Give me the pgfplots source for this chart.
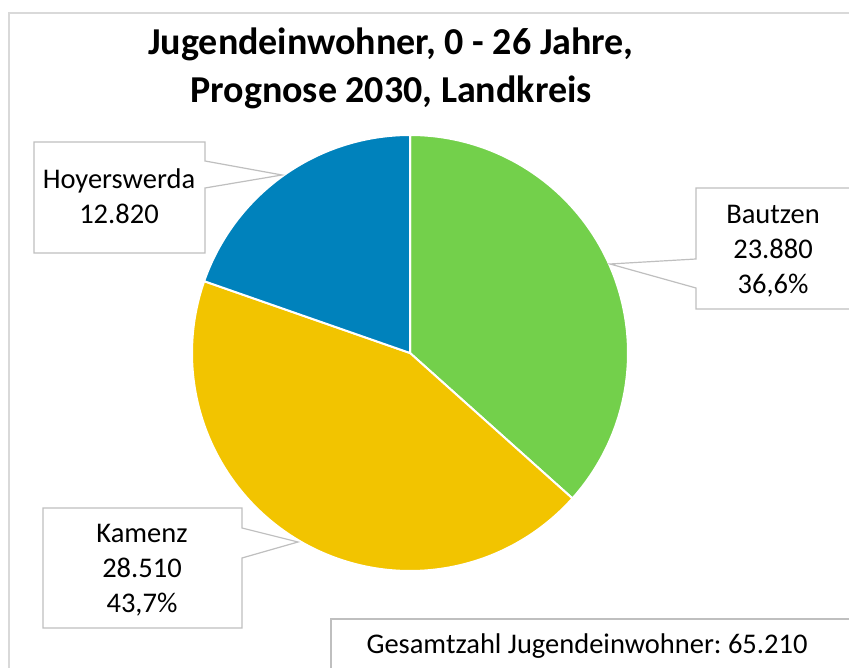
\documentclass[border=0pt]{standalone}
\usepackage{pgfplots}
\pgfplotsset{compat=1.18}
\usepackage{fontspec}
\setmainfont{Carlito}
\definecolor{cgreen}{RGB}{115,208,75}
\definecolor{cyellow}{RGB}{242,196,0}
\definecolor{cblue}{RGB}{0,130,188}
\definecolor{cframe}{RGB}{217,217,217}
\definecolor{ccall}{RGB}{191,191,191}
% data
\def\vBautzen{23880}
\def\vKamenz{28510}
\def\vHoy{12820}
\pgfkeys{/pgf/fpu=true,/pgf/fpu/output format=fixed}
\pgfmathsetmacro\tot{\vBautzen+\vKamenz+\vHoy}
\pgfmathsetmacro\aB{90-360*\vBautzen/\tot}
\pgfmathsetmacro\aK{\aB-360*\vKamenz/\tot}
\pgfmathsetmacro\aH{\aK-360*\vHoy/\tot}
\pgfkeys{/pgf/fpu=false}
\begin{document}
\begin{tikzpicture}
\begin{axis}[
  width=849bp, height=668bp, scale only axis,
  xmin=0, xmax=849, ymin=0, ymax=668,
  hide axis, clip=false]
% frame
\draw[cframe, line width=1.2bp] (9,-20) -- (9,655) -- (880,655);
% pie
\addplot[fill=cgreen, draw=white, line width=2bp, domain=\aB:90, samples=150] ({410+218*cos(x)}, {315+218*sin(x)}) -- (410,315) -- cycle;
\addplot[fill=cyellow, draw=white, line width=2bp, domain=\aK:\aB, samples=150] ({410+218*cos(x)}, {315+218*sin(x)}) -- (410,315) -- cycle;
\addplot[fill=cblue, draw=white, line width=2bp, domain=\aH:\aK, samples=150] ({410+218*cos(x)}, {315+218*sin(x)}) -- (410,315) -- cycle;
% callouts
\draw[ccall, line width=1.2bp, fill=white] (34,526) -- (205,526) -- (205,507) -- (282,493) -- (205,480) -- (205,415) -- (34,415) -- cycle;
\draw[ccall, line width=1.2bp, fill=white] (880,480) -- (696,480) -- (696,409) -- (610,404) -- (696,380) -- (696,359) -- (880,359);
\draw[ccall, line width=1.2bp, fill=white] (43,160) -- (242,160) -- (242,140) -- (298,126) -- (242,110) -- (242,40) -- (43,40) -- cycle;
\draw[ccall, line width=1.2bp, fill=white] (880,49) -- (331,49) -- (331,-20);
% texts
\begin{scope}[every node/.style={anchor=base, inner sep=0pt, font=\fontsize{28.5bp}{34bp}\selectfont}]
\node at (119,479) {Hoyerswerda};
\node at (119,444) {12.820};
\node at (773,444) {Bautzen};
\node at (773,409) {23.880};
\node at (773,374) {36,6\%};
\node at (142,125) {Kamenz};
\node at (142,90) {28.510};
\node at (142,55) {43,7\%};
\node at (587,15) {Gesamtzahl Jugendeinwohner:\ 65.210};
\end{scope}
\node[anchor=base, inner sep=0pt, font=\bfseries\fontsize{38bp}{44bp}\selectfont] at (391,613) {Jugendeinwohner, 0 - 26 Jahre,};
\node[anchor=base, inner sep=0pt, font=\bfseries\fontsize{38bp}{44bp}\selectfont] at (391,565) {Prognose 2030, Landkreis};
\end{axis}
\pgfresetboundingbox
\useasboundingbox (0,0) rectangle (849bp,668bp);
\end{tikzpicture}
\end{document}
